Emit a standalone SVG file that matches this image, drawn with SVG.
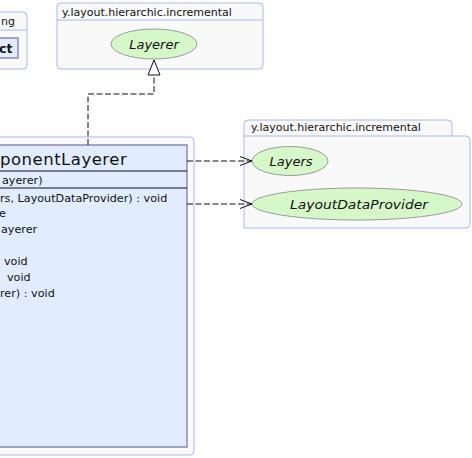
<svg xmlns="http://www.w3.org/2000/svg" width="472" height="458" viewBox="0 0 472 458">
<style>
.grp{fill:#f9f9fa;stroke:#aab6f2;stroke-width:1}
.hdr{font-family:"DejaVu Sans",sans-serif;font-size:11px;fill:#111}
.cls{fill:#e1edff;stroke:#7a7ab2;stroke-width:1.3}
.sep{stroke:#111;stroke-width:1}
.mem{font-family:"DejaVu Sans",sans-serif;font-size:11.2px;fill:#111}
.iface{fill:#d6f8c8;stroke:#9a9a9a;stroke-width:1}
.itxt{font-family:"DejaVu Sans",sans-serif;font-size:13px;font-style:italic;fill:#111;text-anchor:middle}
.dep{fill:none;stroke:#111;stroke-width:1;stroke-dasharray:6,2.5}
</style>
<defs>
<marker id="open" markerWidth="14" markerHeight="12" refX="13" refY="6" orient="auto" markerUnits="userSpaceOnUse">
<path d="M1,1.5 L13,6 L1,10.5" fill="none" stroke="#111" stroke-width="1"/>
</marker>
<marker id="tri" markerWidth="18" markerHeight="16" refX="16" refY="8" orient="auto" markerUnits="userSpaceOnUse">
<path d="M16,8 L1,2 L1,14 Z" fill="#fff" stroke="#111" stroke-width="1"/>
</marker>
</defs>

<g id="group-left-top">
<rect class="grp" x="-10" y="12" width="37" height="57" rx="4"/>
<line x1="-10" y1="30" x2="27" y2="30" stroke="#aab6f2"/>
<text class="hdr" x="1" y="25">ng</text>
<rect x="-5" y="38" width="23" height="20" fill="#e1edff" stroke="#7a7ab2" stroke-width="1.3"/>
<text x="-1" y="53" font-family="DejaVu Sans, sans-serif" font-size="12.5" font-weight="bold" fill="#111">ct</text>
</g>

<g id="group-layerer">
<rect class="grp" x="57" y="3" width="206" height="66" rx="4"/>
<line x1="57" y1="20" x2="263" y2="20" stroke="#aab6f2"/>
<text class="hdr" x="62" y="16">y.layout.hierarchic.incremental</text>
</g>
<g id="Layerer">
<ellipse class="iface" cx="154" cy="44" rx="43" ry="15"/>
<text class="itxt" x="154" y="49">Layerer</text>
</g>

<g id="group-right">
<path class="grp" d="M244,228 V124 Q244,120 248,120 H448 Q452,120 452,124 V136 H466 Q470,136 470,140 V224 Q470,228 466,228 Z"/>
<line x1="244" y1="136" x2="452" y2="136" stroke="#aab6f2"/>
<text class="hdr" x="251" y="131">y.layout.hierarchic.incremental</text>
</g>
<g id="Layers">
<ellipse class="iface" cx="290" cy="161" rx="38" ry="14.5"/>
<text class="itxt" x="291" y="166">Layers</text>
</g>
<g id="LayoutDataProvider">
<ellipse class="iface" cx="357" cy="204" rx="105" ry="16"/>
<text class="itxt" x="359" y="209" textLength="138" lengthAdjust="spacingAndGlyphs">LayoutDataProvider</text>
</g>

<g id="group-main">
<rect class="grp" x="-10" y="137" width="204" height="318" rx="4"/>
</g>
<g id="ComponentLayerer">
<rect class="cls" x="-10" y="145" width="197" height="302"/>
<line class="sep" x1="-10" y1="171" x2="187" y2="171"/>
<line class="sep" x1="-10" y1="188" x2="187" y2="188"/>
<text x="0" y="165" font-family="DejaVu Sans, sans-serif" font-size="16.5" letter-spacing="0.5" fill="#111">ponentLayerer</text>
<text class="mem" x="2" y="184">ayerer)</text>
<text class="mem" x="0" y="202">rs, LayoutDataProvider) : void</text>
<text class="mem" x="-1" y="217">e</text>
<text class="mem" x="1" y="233">ayerer</text>
<text class="mem" x="4" y="265">void</text>
<text class="mem" x="7" y="281">void</text>
<text class="mem" x="0" y="297">rer) : void</text>
</g>

<g id="connectors">
<path class="dep" d="M88,145 V94 H154 V60" marker-end="url(#tri)"/>
<line class="dep" x1="187" y1="161" x2="252" y2="161" marker-end="url(#open)"/>
<line class="dep" x1="187" y1="204" x2="252" y2="204" marker-end="url(#open)"/>
</g>
</svg>
